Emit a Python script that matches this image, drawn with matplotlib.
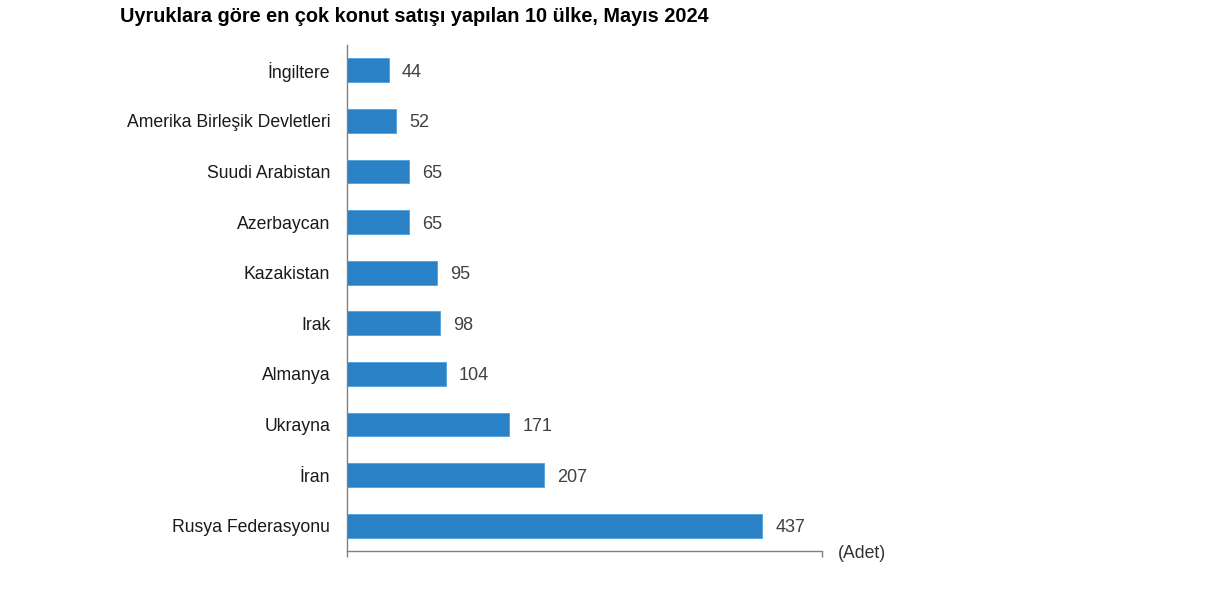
import matplotlib
matplotlib.use('Agg')
import matplotlib.pyplot as plt

# data (top to bottom as shown in the chart)
countries = ['İngiltere', 'Amerika Birleşik Devletleri', 'Suudi Arabistan', 'Azerbaycan',
             'Kazakistan', 'Irak', 'Almanya', 'Ukrayna', 'İran', 'Rusya Federasyonu']
sales = [44, 52, 65, 65, 95, 98, 104, 171, 207, 437]

title = 'Uyruklara göre en çok konut satışı yapılan 10 ülke, Mayıs 2024'
unit_label = '(Adet)'

plt.rcParams['font.family'] = ['Liberation Sans', 'DejaVu Sans']

fig = plt.figure(figsize=(12.12, 6.0), dpi=100)
ax = fig.add_axes([347 / 1212, 1 - 551 / 600, 475 / 1212, 506 / 600])

# reverse so first country sits on top
ypos = list(range(len(countries)))[::-1]
ax.barh(ypos, sales, height=0.47, color='#2a81c6', edgecolor='#4fa3e0', linewidth=0.6)

for y, v in zip(ypos, sales):
    ax.text(v + 14, y, str(v), va='center_baseline', ha='left', fontsize=13, color='#404040')

ax.set_xlim(0, 500)
ax.set_ylim(-0.5, len(countries) - 0.5)
ax.set_yticks(ypos)
ax.set_yticklabels(countries, fontsize=12.7, color='#1a1a1a')
ax.tick_params(axis='y', length=0, pad=12)
ax.set_xticks([0, 500])
ax.set_xticklabels([])
ax.tick_params(axis='x', length=4, color='#808080', width=1)

for side in ['top', 'right']:
    ax.spines[side].set_visible(False)
for side in ['left', 'bottom']:
    ax.spines[side].set_color('#808080')
    ax.spines[side].set_linewidth(1)

fig.text(838 / 1212, 1 - 553 / 600, unit_label, fontsize=12.7, color='#333333',
         ha='left', va='center')
fig.text(120 / 1212, 1 - 17 / 600, title, fontsize=14.3, fontweight='bold',
         ha='left', va='center', color='#000000')

fig.savefig('out.png', dpi=100, facecolor='white')
